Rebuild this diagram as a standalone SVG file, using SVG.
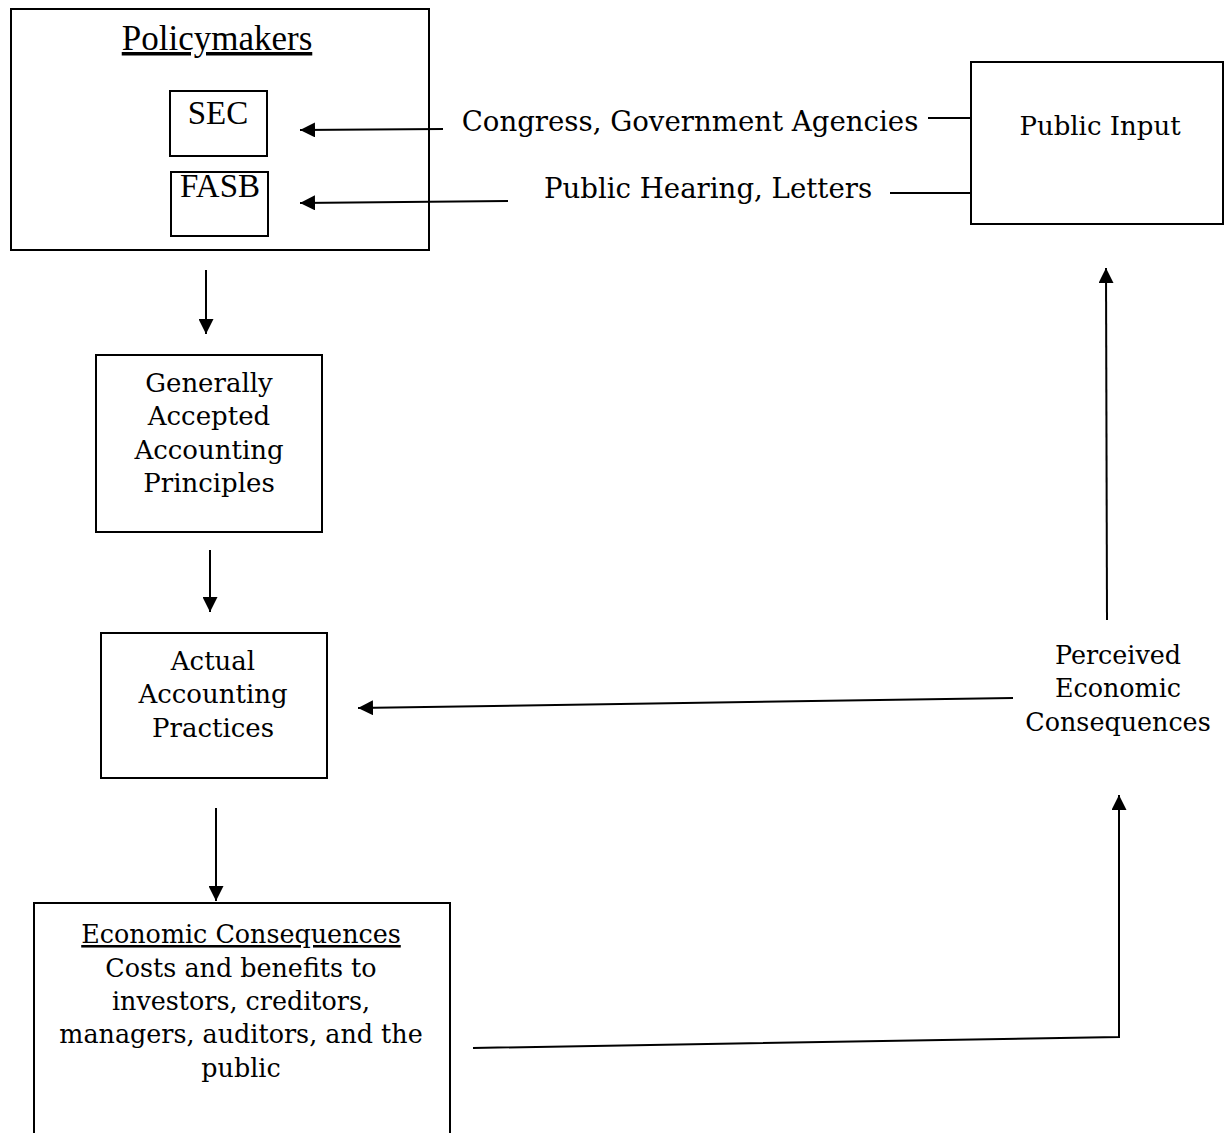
<svg xmlns="http://www.w3.org/2000/svg" width="1224" height="1133" viewBox="0 0 1224 1133">
<style>
.box{fill:none;stroke:#000;stroke-width:2}
.t{font-family:"DejaVu Serif","Liberation Serif",serif;font-size:26px;fill:#000;text-anchor:middle}
.s{font-size:25.4px}
.l{font-size:27.6px}
.tr{font-family:"Liberation Serif","Times New Roman",serif;font-size:33px;fill:#000;text-anchor:middle}
.big{font-size:35px}
.c{stroke:#000;stroke-width:2;fill:none}
</style>
<defs>
<marker id="ah" viewBox="0 0 10 10" refX="10" refY="5" markerWidth="15" markerHeight="15" markerUnits="userSpaceOnUse" orient="auto">
<path d="M0,0 L10,5 L0,10 z" fill="#000"/>
</marker>
</defs>
<rect width="1224" height="1133" fill="#fff"/>
<g id="policymakers">
<rect class="box" x="11" y="9" width="418" height="241"/>
<text class="tr big" x="217" y="50" text-decoration="underline">Policymakers</text>
</g>
<g id="sec">
<rect class="box" x="170" y="91" width="97" height="65"/>
<text class="tr" x="218" y="124">SEC</text>
</g>
<g id="fasb">
<rect class="box" x="171" y="172" width="97" height="64"/>
<text class="tr" x="220" y="197">FASB</text>
</g>
<g id="public-input">
<rect class="box" x="971" y="62" width="252" height="162"/>
<text class="t" x="1100" y="135">Public Input</text>
</g>
<g id="gaap">
<rect class="box" x="96" y="355" width="226" height="177"/>
<text class="t" x="209" y="392">Generally</text>
<text class="t" x="209" y="425">Accepted</text>
<text class="t" x="209" y="459">Accounting</text>
<text class="t" x="209" y="492">Principles</text>
</g>
<g id="actual">
<rect class="box" x="101" y="633" width="226" height="145"/>
<text class="t" x="213" y="670">Actual</text>
<text class="t" x="213" y="703">Accounting</text>
<text class="t" x="213" y="737">Practices</text>
</g>
<g id="economic">
<rect class="box" x="34" y="903" width="416" height="232"/>
<text class="t s" x="241" y="943" text-decoration="underline">Economic Consequences</text>
<text class="t s" x="241" y="977">Costs and benefits to</text>
<text class="t s" x="241" y="1010">investors, creditors,</text>
<text class="t s" x="241" y="1043">managers, auditors, and the</text>
<text class="t s" x="241" y="1077">public</text>
</g>
<g id="perceived">
<text class="t s" x="1118" y="664">Perceived</text>
<text class="t s" x="1118" y="697">Economic</text>
<text class="t s" x="1118" y="731">Consequences</text>
</g>
<g id="labels">
<text class="t l" x="690" y="131">Congress, Government Agencies</text>
<text class="t l" x="708" y="198">Public Hearing, Letters</text>
</g>
<g id="connectors">
<line class="c" x1="443" y1="129" x2="300" y2="130" marker-end="url(#ah)"/>
<line class="c" x1="508" y1="201" x2="300" y2="203" marker-end="url(#ah)"/>
<line class="c" x1="928" y1="118" x2="971" y2="118"/>
<line class="c" x1="890" y1="193" x2="971" y2="193"/>
<line class="c" x1="206" y1="270" x2="206" y2="334" marker-end="url(#ah)"/>
<line class="c" x1="210" y1="550" x2="210" y2="612" marker-end="url(#ah)"/>
<line class="c" x1="216" y1="808" x2="216" y2="901" marker-end="url(#ah)"/>
<line class="c" x1="1013" y1="698" x2="358" y2="708" marker-end="url(#ah)"/>
<line class="c" x1="1107" y1="620" x2="1106" y2="268" marker-end="url(#ah)"/>
<polyline class="c" points="473,1048 1119,1037 1119,795" marker-end="url(#ah)"/>
</g>
</svg>
